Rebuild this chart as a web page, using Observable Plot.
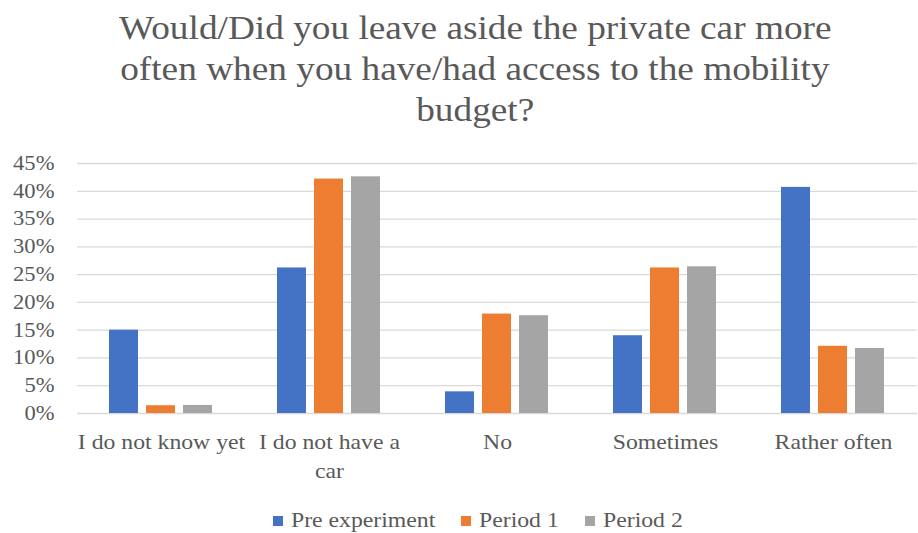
<!DOCTYPE html>
<html><head><meta charset="utf-8">
<script src="https://cdn.jsdelivr.net/npm/d3@7"></script>
<script src="https://cdn.jsdelivr.net/npm/@observablehq/plot@0.6"></script>
<style>
body{margin:0;background:#fff;font-family:"Liberation Serif","Times New Roman",serif;color:#595959;}
#title{font-size:33px;line-height:41px;text-align:center;padding-top:8px;width:918px;box-sizing:border-box;padding-left:32px;height:130px;}
#title span{display:inline-block;transform:scaleX(1.13);transform-origin:center;}
#legend{width:918px;display:flex;justify-content:center;align-items:center;padding-left:38px;box-sizing:border-box;font-size:21px;margin-top:20px;}
#legend .item{display:flex;align-items:center;margin:0 13px;}
#legend .sw{width:10px;height:10px;margin-right:8px;}
#legend .lab{display:inline-block;white-space:nowrap;}
#legend .lab span{display:inline-block;transform:scaleX(1.13);transform-origin:left center;}
</style></head><body>
<div id="title"><span>Would/Did you leave aside the private car more</span><br><span>often when you have/had access to the mobility</span><br><span>budget?</span></div>
<div id="chart"></div>
<div id="legend"></div>
<script>
const categories = ["I do not know yet", "I do not have a car", "No", "Sometimes", "Rather often"];
const tickLabels = ["I do not know yet", "I do not have a\ncar", "No", "Sometimes", "Rather often"];
const series = ["Pre experiment", "Period 1", "Period 2"];
const preExperiment = [15.0, 26.2, 3.9, 14.0, 40.7];
const period1 = [1.4, 42.2, 17.9, 26.2, 12.1];
const period2 = [1.45, 42.6, 17.6, 26.4, 11.7];
const colors = ["#4472C4", "#ED7D31", "#A5A5A5"];
const yTicks = [0, 5, 10, 15, 20, 25, 30, 35, 40, 45];

const valuesBySeries = [preExperiment, period1, period2];
const data = [];
categories.forEach((c, i) => series.forEach((s, j) => data.push({category: c, series: s, value: valuesBySeries[j][i]})));
const labelOf = new Map(categories.map((c, i) => [c, tickLabels[i]]));

const chart = Plot.plot({
  width: 918,
  height: 358,
  marginTop: 33,
  marginBottom: 75,
  marginLeft: 76,
  marginRight: 1,
  style: {fontFamily: '"Liberation Serif","Times New Roman",serif', color: "#595959", background: "#fff"},
  fx: {domain: categories, padding: 0},
  x: {domain: series, paddingInner: 0.21, paddingOuter: 0.83, axis: null},
  y: {domain: [0, 45]},
  color: {domain: series, range: colors},
  marks: [
    Plot.gridY(yTicks, {stroke: "#D9D9D9", strokeOpacity: 1, strokeWidth: 1.3}),
    Plot.barY(data, {fx: "category", x: "series", y: "value", fill: "series"}),
    Plot.axisY(yTicks, {tickSize: 0, tickPadding: 23, tickFormat: d => d + "%", fontSize: 20, fill: "#595959", label: null}),
    Plot.axisFx({anchor: "bottom", tickSize: 0, tickPadding: 14, tickFormat: d => labelOf.get(d), fontSize: 21, lineHeight: 1.42, fill: "#595959", label: null})
  ]
});
document.getElementById("chart").appendChild(chart);

// widen axis labels horizontally to match the reference's stretched typeface
chart.querySelectorAll('g[aria-label$="tick label"] text').forEach(t => {
  const tr = t.getAttribute("transform");
  if (tr) t.setAttribute("transform", tr + " scale(1.13,1)");
  else {
    const x = +(t.getAttribute("x") || 0), y = +(t.getAttribute("y") || 0);
    t.removeAttribute("x"); t.removeAttribute("y");
    t.setAttribute("transform", `translate(${x},${y}) scale(1.13,1)`);
  }
});

const legend = document.getElementById("legend");
series.forEach((s, j) => {
  const item = document.createElement("div");
  item.className = "item";
  const sw = document.createElement("div");
  sw.className = "sw";
  sw.style.background = colors[j];
  const lab = document.createElement("div");
  lab.className = "lab";
  const t = document.createElement("span");
  t.textContent = s;
  lab.appendChild(t);
  item.appendChild(sw); item.appendChild(lab);
  legend.appendChild(item);
  lab.style.width = (t.getBoundingClientRect().width) + "px";
});
</script>
</body></html>
